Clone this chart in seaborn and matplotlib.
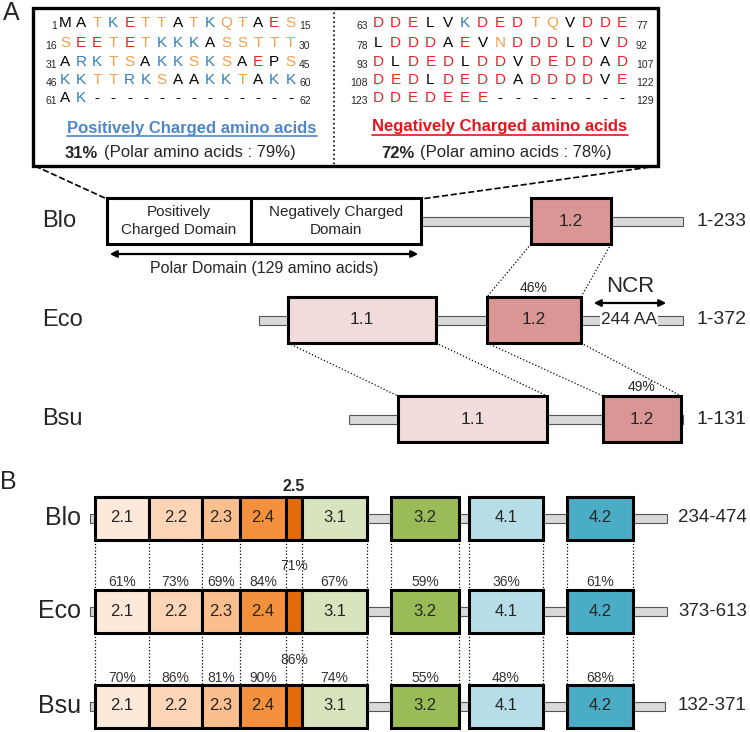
import matplotlib
matplotlib.use('Agg')
import matplotlib.pyplot as plt
from matplotlib.patches import Rectangle, FancyArrowPatch
import seaborn as sns

# ---------------- data ----------------
pos_rows = ['MATKETTATKQTAES', 'SEETETKKKASSTTT', 'ARKTSAKKSKSAEPS',
            'KKTTRKSAAKKTAKK', 'AK-------------']
pos_first = [1, 16, 31, 46, 61]
pos_last = [15, 30, 45, 60, 62]
neg_rows = ['DDELVKDEDTQVDDE', 'LDDDAEVNDDDLDVD', 'DLDEDLDDVDEDDAD',
            'DEDLDEDDADDDDVE', 'DDEDEEE--------']
neg_first = [63, 78, 93, 108, 123]
neg_last = [77, 92, 107, 122, 129]
pos_charged, pos_polar = 31, 79
neg_charged, neg_polar = 72, 78

species = ['Blo', 'Eco', 'Bsu']

# region 1 (diagram x units)
r1_ranges = ['1-233', '1-372', '1-131']
r1_bar = [(421, 683), (259, 683), (349, 683)]
r1_names = [['1.2'], ['1.1', '1.2'], ['1.1', '1.2']]
r1_left = [[531], [288, 487], [398, 603]]
r1_right = [[611], [436, 581], [547, 681]]
r1_identity = [[None], [None, 46], [None, 49]]
polar_left, polar_mid, polar_right = 107, 251, 421
ncr_len = 244

# regions 2-4
r2_names = ['2.1', '2.2', '2.3', '2.4', '2.5', '3.1', '3.2', '4.1', '4.2']
r2_left = [95, 149, 202, 240, 286, 302, 391, 469, 567]
r2_right = [149, 202, 240, 286, 302, 367, 459, 543, 633]
r2_ranges = ['234-474', '373-613', '132-371']
r2_identity = [[None] * 9,
               [61, 73, 69, 84, 71, 67, 59, 36, 61],
               [70, 86, 81, 90, 86, 74, 55, 48, 68]]
r2_bar = [(90, 667), (90, 667), (90, 665)]

# ---------------- style ----------------
sns.set_style('white')
plt.rcParams['font.family'] = ['Liberation Sans', 'DejaVu Sans']
NARROW = ['Liberation Sans Narrow', 'Liberation Sans', 'DejaVu Sans']

res_color = {}
for c in 'DE':
    res_color[c] = '#e3262b'
for c in 'KR':
    res_color[c] = '#2f7fc1'
for c in 'STQN':
    res_color[c] = '#f0a050'
r1_colors = {'1.1': '#f2dcdb', '1.2': '#d99694'}
r2_colors = ['#fde9d9', '#fbd5b5', '#f9bf8f', '#f4913f', '#e36c0a',
             '#d7e4bd', '#9bbb59', '#b7dee8', '#4bacc6']
bar_color = '#d9d9d9'

fig = plt.figure(figsize=(7.5, 7.32), dpi=100)
ax = fig.add_axes([0, 0, 1, 1])
ax.set_xlim(0, 750)
ax.set_ylim(732, 0)
ax.axis('off')


def box(x0, x1, yc, h, color, lw=2.2, z=3):
    ax.add_patch(Rectangle((x0, yc - h / 2), x1 - x0, h, facecolor=color,
                           edgecolor='black', lw=lw, zorder=z))


def bar(x0, x1, yc, h=9):
    ax.add_patch(Rectangle((x0, yc - h / 2), x1 - x0, h, facecolor=bar_color,
                           edgecolor='#555555', lw=0.8, zorder=1))


# ---------------- panel A: sequences ----------------
ax.text(11, 13, 'A', fontsize=18, ha='center', va='center')
ax.add_patch(Rectangle((33, 8), 625, 158, facecolor='white',
                       edgecolor='black', lw=2.4, zorder=2))
ax.plot([334, 334], [8, 166], color='black', ls=':', lw=1.2, zorder=3)

row_y = [23, 43, 62, 80, 98]
for rows, first, last, x0, dx, nx_l, nx_r in [
        (pos_rows, pos_first, pos_last, 65, 16.1, 57, 299),
        (neg_rows, neg_first, neg_last, 378, 17.45, 368, 636)]:
    for r, seq in enumerate(rows):
        y = row_y[r]
        ax.text(nx_l, y + 3, str(first[r]), fontsize=7.5, ha='right',
                va='center', zorder=4)
        ax.text(nx_r, y + 3, str(last[r]), fontsize=7.5, ha='left',
                va='center', zorder=4)
        for i, c in enumerate(seq):
            ax.text(x0 + i * dx, y, c, fontsize=11, ha='center', va='center',
                    color=res_color.get(c, 'black'), zorder=4)

t1 = ax.text(192, 128, 'Positively Charged amino acids', fontsize=12,
             fontweight='bold', color='#4f86c6', ha='center', va='center',
             zorder=4)
t2 = ax.text(500, 127, 'Negatively Charged amino acids', fontsize=12,
             fontweight='bold', color='#e8141c', ha='center', va='center',
             zorder=4)
ax.text(98, 153, f'{pos_charged}%', fontsize=12, fontweight='bold',
        ha='right', va='center', zorder=4)
ax.text(104, 153, f'(Polar amino acids : {pos_polar}%)', fontsize=12,
        ha='left', va='center', zorder=4)
ax.text(415, 153, f'{neg_charged}%', fontsize=12, fontweight='bold',
        ha='right', va='center', zorder=4)
ax.text(420, 153, f'(Polar amino acids : {neg_polar}%)', fontsize=12,
        ha='left', va='center', zorder=4)

fig.canvas.draw()
inv = ax.transData.inverted()
for t, uy in [(t1, 136), (t2, 135)]:
    bb = t.get_window_extent()
    xa = inv.transform((bb.x0, 0))[0]
    xb = inv.transform((bb.x1, 0))[0]
    ax.plot([xa, xb], [uy, uy], color=t.get_color(), lw=1.2, zorder=4)

# zoom connectors
ax.plot([35, polar_left], [166, 199], color='black', ls='--', lw=1.2)
ax.plot([658, polar_right], [166, 199], color='black', ls='--', lw=1.2)

# ---------------- panel A: region 1 diagram ----------------
r1_y = [221, 320, 419]
r1_h = 46
for s, sp in enumerate(species):
    y = r1_y[s]
    ax.text(42, y, sp, fontsize=17, family=NARROW, ha='left', va='center')
    ax.text(697, y, r1_ranges[s], fontsize=14, family=NARROW, ha='left',
            va='center')
    bar(*r1_bar[s], y)
    for n, x0, x1, pid in zip(r1_names[s], r1_left[s], r1_right[s],
                              r1_identity[s]):
        box(x0, x1, y, r1_h, r1_colors[n])
        ax.text((x0 + x1) / 2, y, n, fontsize=12.5, family=NARROW,
                ha='center', va='center', zorder=4)
        if pid is not None:
            ax.text((x0 + x1) / 2, y - r1_h / 2 - 9, f'{pid}%', fontsize=10,
                    family=NARROW, ha='center', va='center')

# polar domain
yb = r1_y[0]
box(polar_left, polar_mid, yb, r1_h, 'white')
box(polar_mid, polar_right, yb, r1_h, 'white')
ax.text((polar_left + polar_mid) / 2, yb, 'Positively\nCharged Domain',
        fontsize=11, family=NARROW, ha='center', va='center', zorder=4,
        linespacing=1.35)
ax.text((polar_mid + polar_right) / 2, yb, 'Negatively Charged\nDomain',
        fontsize=11, family=NARROW, ha='center', va='center', zorder=4,
        linespacing=1.35)
ax.add_patch(FancyArrowPatch((polar_left, 254), (polar_right, 254),
                             arrowstyle='<|-|>', mutation_scale=10, lw=1.6,
                             color='black'))
ax.text((polar_left + polar_right) / 2, 268,
        f'Polar Domain ({neg_last[-1]} amino acids)', fontsize=11.5,
        family=NARROW, ha='center', va='center')

# NCR
ax.text(629, 320, f'{ncr_len} AA', fontsize=12.5, family=NARROW,
        ha='center', va='center', zorder=4,
        bbox=dict(facecolor='white', edgecolor='none', pad=0.5))
ax.text(630, 286, 'NCR', fontsize=16, family=NARROW, ha='center',
        va='center')
ax.add_patch(FancyArrowPatch((591, 303), (669, 303), arrowstyle='<|-|>',
                             mutation_scale=10, lw=1.6, color='black'))

# dotted alignment lines between rows
for (sa, ia), (sb, ib) in [((0, 0), (1, 1)), ((1, 0), (2, 0)),
                           ((1, 1), (2, 1))]:
    ya = r1_y[sa] + r1_h / 2
    yb2 = r1_y[sb] - r1_h / 2
    ax.plot([r1_left[sa][ia], r1_left[sb][ib]], [ya, yb2], color='black',
            ls=':', lw=0.9)
    ax.plot([r1_right[sa][ia], r1_right[sb][ib]], [ya, yb2], color='black',
            ls=':', lw=0.9)

# ---------------- panel B ----------------
ax.text(8, 482, 'B', fontsize=18, ha='center', va='center')
r2_y = [518, 611, 706]
r2_h = 43
for s, sp in enumerate(species):
    y = r2_y[s]
    ax.text(81, y, sp, fontsize=18, ha='right', va='center')
    ax.text(678, y, r2_ranges[s], fontsize=13.5, ha='left', va='center')
    bar(*r2_bar[s], y)
    for k, n in enumerate(r2_names):
        x0, x1 = r2_left[k], r2_right[k]
        box(x0, x1, y, r2_h, r2_colors[k])
        if n != '2.5':
            ax.text((x0 + x1) / 2, y, n, fontsize=12, ha='center',
                    va='center', zorder=4)
        pid = r2_identity[s][k]
        if pid is not None:
            lift = 24 if n == '2.5' else 7
            ax.text((x0 + x1) / 2, y - r2_h / 2 - lift, f'{pid}%',
                    fontsize=10, color='#333333', ha='center', va='center')
ax.text((r2_left[4] + r2_right[4]) / 2, r2_y[0] - r2_h / 2 - 10, '2.5',
        fontsize=11.5, fontweight='bold', ha='center', va='center')

edges = sorted(set(r2_left) | set(r2_right))
for s in range(2):
    for xe in edges:
        ax.plot([xe, xe], [r2_y[s] + r2_h / 2, r2_y[s + 1] - r2_h / 2],
                color='black', ls=':', lw=0.9, zorder=0)

fig.savefig('out.png', dpi=100)
